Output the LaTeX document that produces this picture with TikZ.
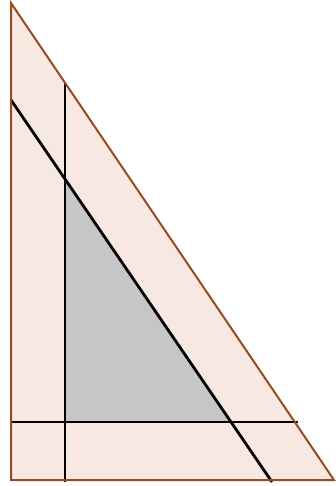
\documentclass[tikz,border=0pt]{standalone}
\begin{document}
\begin{tikzpicture}[x=1pt,y=-1pt,
  outerfill/.style={fill=beigefill},
  outeredge/.style={draw=brownedge,line width=2pt,line join=miter},
  inner/.style={fill=grayfill},
  cut/.style={draw=black,line width=2.8pt}]
\definecolor{beigefill}{HTML}{F7E9E1}
\definecolor{brownedge}{HTML}{9A4A22}
\definecolor{grayfill}{HTML}{C6C6C6}
\useasboundingbox (0,0) rectangle (336,486);
\coordinate (A) at (11,3);
\coordinate (B) at (11,480);
\coordinate (C) at (334,480);
\coordinate (V1) at (65,82);
\coordinate (V2) at (65,482);
\coordinate (H1) at (11,422);
\coordinate (H2) at (298,422);
\coordinate (D1) at (11,100);
\coordinate (D2) at (272,482);
\coordinate (G1) at (65,179);
\coordinate (G2) at (65,422);
\coordinate (G3) at (231,422);
\fill[outerfill] (A) -- (B) -- (C) -- cycle;
\fill[inner] (G1) -- (G2) -- (G3) -- cycle;
\draw[cut] (V1) -- (V2);
\draw[cut] (H1) -- (H2);
\draw[cut] (D1) -- (D2);
\draw[outeredge] (A) -- (B) -- (C) -- cycle;
\end{tikzpicture}
\end{document}
